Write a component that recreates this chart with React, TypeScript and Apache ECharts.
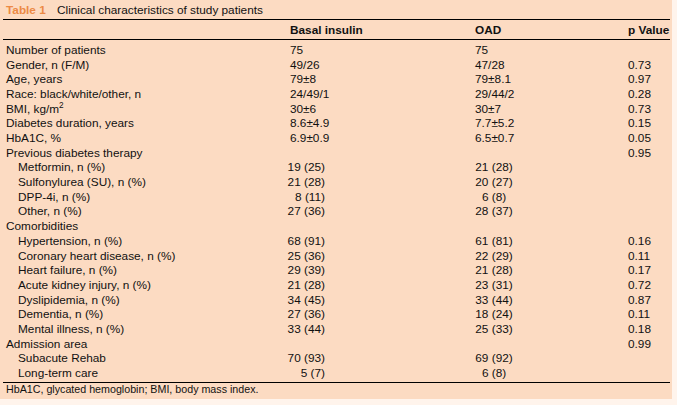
import React, { useEffect, useRef } from "react";
import * as echarts from "echarts";

const tableNumber = "Table 1";
const tableTitle = "Clinical characteristics of study patients";
const columnHeaders = ["Basal insulin", "OAD", "p Value"];
const rowLabels = [
  "Number of patients",
  "Gender, n (F/M)",
  "Age, years",
  "Race: black/white/other, n",
  "BMI, kg/m²",
  "Diabetes duration, years",
  "HbA1C, %",
  "Previous diabetes therapy",
  "Metformin, n (%)",
  "Sulfonylurea (SU), n (%)",
  "DPP-4i, n (%)",
  "Other, n (%)",
  "Comorbidities",
  "Hypertension, n (%)",
  "Coronary heart disease, n (%)",
  "Heart failure, n (%)",
  "Acute kidney injury, n (%)",
  "Dyslipidemia, n (%)",
  "Dementia, n (%)",
  "Mental illness, n (%)",
  "Admission area",
  "Subacute Rehab",
  "Long-term care",
];
const rowLevels = [0, 0, 0, 0, 0, 0, 0, 0, 1, 1, 1, 1, 0, 1, 1, 1, 1, 1, 1, 1, 0, 1, 1];
const basalValues = [
  "75", "49/26", "79±8", "24/49/1", "30±6", "8.6±4.9", "6.9±0.9", "",
  "19 (25)", "21 (28)", "8 (11)", "27 (36)", "",
  "68 (91)", "25 (36)", "29 (39)", "21 (28)", "34 (45)", "27 (36)", "33 (44)", "",
  "70 (93)", "5 (7)",
];
const oadValues = [
  "75", "47/28", "79±8.1", "29/44/2", "30±7", "7.7±5.2", "6.5±0.7", "",
  "21 (28)", "20 (27)", "6 (8)", "28 (37)", "",
  "61 (81)", "22 (29)", "21 (28)", "23 (31)", "33 (44)", "18 (24)", "25 (33)", "",
  "69 (92)", "6 (8)",
];
const pValues = [
  "", "0.73", "0.97", "0.28", "0.73", "0.15", "0.05", "0.95",
  "", "", "", "", "",
  "0.16", "0.11", "0.17", "0.72", "0.87", "0.11", "0.18", "0.99",
  "", "",
];
const footnote = "HbA1C, glycated hemoglobin; BMI, body mass index.";

const FONT = "'Liberation Sans', Arial, Helvetica, sans-serif";
const FS = 11.8;
const INK = "#111111";

export default function App() {
  const ref = useRef<HTMLDivElement>(null);
  useEffect(() => {
    if (!ref.current) return;
    const chart = echarts.init(ref.current, undefined, { renderer: "svg" });
    const els: any[] = [];
    // background
    els.push({ type: "rect", shape: { x: 0, y: 0, width: 672, height: 399 }, style: { fill: "#FCDBC2" }, silent: true });
    // title
    els.push({
      type: "text", x: 6, y: 10,
      style: { text: tableNumber, font: `bold ${FS}px ${FONT}`, fill: "#EC8A45", verticalAlign: "middle" },
    });
    els.push({
      type: "text", x: 57, y: 10,
      style: { text: tableTitle, font: `${FS}px ${FONT}`, fill: INK, verticalAlign: "middle" },
    });
    // rules
    const rule = (y: number) => ({
      type: "line", shape: { x1: 3, y1: y, x2: 670, y2: y }, style: { stroke: "#000", lineWidth: 1 },
    });
    els.push(rule(19.5), rule(39.5), rule(382.5));
    // headers
    const colX = [290, 475, 628];
    columnHeaders.forEach((h, i) => {
      els.push({
        type: "text", x: colX[i], y: 30,
        style: { text: h, font: `bold ${FS}px ${FONT}`, fill: INK, verticalAlign: "middle" },
      });
    });
    const y0 = 50;
    const step = 14.68;
    const isCount = (s: string) => s.indexOf("(") >= 0;
    rowLabels.forEach((lab, r) => {
      const y = y0 + r * step;
      let labelText = lab;
      let rich: any = undefined;
      if (lab.indexOf("²") >= 0) {
        labelText = "{n|" + lab.replace("²", "") + "}{s|2}";
        rich = {
          n: { font: `${FS}px ${FONT}`, fill: INK },
          s: { font: `${FS * 0.7}px ${FONT}`, fill: INK, verticalAlign: "top", padding: [0, 0, 6, 0] },
        };
      }
      els.push({
        type: "text", x: rowLevels[r] ? 18 : 6, y,
        style: { text: labelText, rich, font: `${FS}px ${FONT}`, fill: INK, verticalAlign: "middle" },
      });
      const b = basalValues[r];
      if (b) {
        els.push({
          type: "text", x: isCount(b) ? 325 : 290, y,
          style: { text: b, font: `${FS}px ${FONT}`, fill: INK, verticalAlign: "middle", align: isCount(b) ? "right" : "left" },
        });
      }
      const o = oadValues[r];
      if (o) {
        els.push({
          type: "text", x: isCount(o) ? 494 : 475, y,
          style: { text: o, font: `${FS}px ${FONT}`, fill: INK, verticalAlign: "middle", align: isCount(o) ? "center" : "left" },
        });
      }
      const p = pValues[r];
      if (p) {
        els.push({
          type: "text", x: 628, y,
          style: { text: p, font: `${FS}px ${FONT}`, fill: INK, verticalAlign: "middle" },
        });
      }
    });
    els.push({
      type: "text", x: 6, y: 389,
      style: { text: footnote, font: `10.7px ${FONT}`, fill: INK, verticalAlign: "middle" },
    });
    chart.setOption({
      animation: false,
      backgroundColor: "#FFF4EC",
      graphic: { elements: els },
    });
    return () => chart.dispose();
  }, []);
  return (
    <div
      ref={ref}
      style={{ position: "fixed", left: 0, top: 0, width: 677, height: 405 }}
    />
  );
}
